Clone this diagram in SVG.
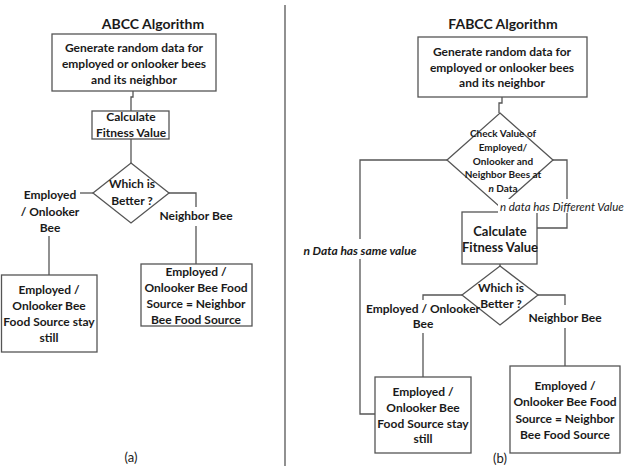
<svg xmlns="http://www.w3.org/2000/svg" width="626" height="466" viewBox="0 0 626 466">
<style>
text{font-family:Lato,"Open Sans","Liberation Sans",sans-serif;fill:#1a1a1a;text-anchor:middle;font-weight:bold}
.t{font-size:14px}
.b{font-size:12px}
.s{font-size:10px}
.r{font-weight:normal;font-size:13px}
.it{font-style:italic}
.st{fill:none;stroke:#555;stroke-width:1.3}
.box{fill:#fff;stroke:#555;stroke-width:1.3}
</style>
<rect width="626" height="466" fill="#fff"/>
<line class="st" x1="285" y1="5" x2="285" y2="466"/>
<g id="connectors">
<path class="st" d="M133,91V97H131V111"/>
<path class="st" d="M131,139V163"/>
<path class="st" d="M93,193H80"/>
<path class="st" d="M49,236V275"/>
<path class="st" d="M169,193H196V207"/>
<path class="st" d="M196,226V264"/>
<path class="st" d="M502,97V103H499V113"/>
<path class="st" d="M553,160H567V228H537"/>
<path class="st" d="M447,160H360V239"/>
<path class="st" d="M360,259V414H375"/>
<path class="st" d="M500,264V266"/>
<path class="st" d="M462,295H423V300"/>
<path class="st" d="M423,333V377"/>
<path class="st" d="M538,295H565V305"/>
<path class="st" d="M565,328V366"/>
</g>
<g id="titleA"><text class="t" x="153" y="29">ABCC Algorithm</text></g>
<g id="genA">
<rect class="box" x="52" y="34" width="164" height="57"/>
<text class="b" x="134" y="52">Generate random data for</text>
<text class="b" x="134" y="68">employed or onlooker bees</text>
<text class="b" x="134" y="84">and its neighbor</text>
</g>
<g id="calcA">
<rect class="box" x="92" y="111" width="77" height="28"/>
<text class="b" x="131" y="121">Calculate</text>
<text class="b" x="131" y="137">Fitness Value</text>
</g>
<g id="decA">
<polygon class="box" points="131,163 169,193 131,223 93,193"/>
<text class="b" x="132" y="188">Which is</text>
<text class="b" x="132" y="205">Better ?</text>
</g>
<g id="lblA1">
<text class="b" x="50" y="199">Employed</text>
<text class="b" x="50" y="216">/ Onlooker</text>
<text class="b" x="50" y="232">Bee</text>
</g>
<g id="lblA2"><text class="b" x="196" y="220">Neighbor Bee</text></g>
<g id="stayA">
<rect class="box" x="1.5" y="275" width="95.5" height="77"/>
<text class="b" x="49" y="294">Employed /</text>
<text class="b" x="49" y="310">Onlooker Bee</text>
<text class="b" x="49" y="326">Food Source stay</text>
<text class="b" x="49" y="342">still</text>
</g>
<g id="newA">
<rect class="box" x="141" y="264" width="111" height="62"/>
<text class="b" x="196" y="276">Employed /</text>
<text class="b" x="196" y="292">Onlooker Bee Food</text>
<text class="b" x="196" y="308">Source = Neighbor</text>
<text class="b" x="196" y="324">Bee Food Source</text>
</g>
<g id="capA"><text class="r" x="131" y="462">(a)</text></g>

<g id="titleB"><text class="t" x="503" y="29">FABCC Algorithm</text></g>
<g id="genB">
<rect class="box" x="418" y="37" width="169" height="60"/>
<text class="b" x="502" y="56">Generate random data for</text>
<text class="b" x="502" y="72">employed or onlooker bees</text>
<text class="b" x="502" y="87">and its neighbor</text>
</g>
<g id="checkB">
<polygon class="box" points="500,113 553,160 500,207 447,160"/>
<text class="s" x="503" y="137">Check Value of</text>
<text class="s" x="503" y="151">Employed/</text>
<text class="s" x="503" y="165">Onlooker and</text>
<text class="s" x="503" y="178">Neighbor Bees at</text>
<text class="s" x="503" y="192"><tspan font-style="italic">n</tspan> Data</text>
</g>
<g id="calcB">
<rect class="box" x="462" y="212" width="75" height="52"/>
<text class="b" x="500" y="236" style="font-size:13px">Calculate</text>
<text class="b" x="500" y="252" style="font-size:13px">Fitness Value</text>
</g>
<g id="lblDiff">
<rect x="498" y="199" width="128" height="14" fill="#fff"/>
<text class="it" x="500" y="211" style="font-weight:normal;font-size:11.5px;text-anchor:start">n data has Different Value</text>
</g>
<g id="lblSame"><text class="it" x="360" y="255" style="font-size:12px">n Data has same value</text></g>
<g id="decB">
<polygon class="box" points="500,266 538,295 500,325 462,295"/>
<text class="b" x="501" y="292">Which is</text>
<text class="b" x="501" y="308">Better ?</text>
</g>
<g id="lblB1">
<text class="b" x="423" y="313">Employed / Onlooker</text>
<text class="b" x="423" y="328">Bee</text>
</g>
<g id="lblB2"><text class="b" x="565" y="322">Neighbor Bee</text></g>
<g id="stayB">
<rect class="box" x="375" y="377" width="96" height="76"/>
<text class="b" x="423" y="396">Employed /</text>
<text class="b" x="423" y="412">Onlooker Bee</text>
<text class="b" x="423" y="428">Food Source stay</text>
<text class="b" x="423" y="443">still</text>
</g>
<g id="newB">
<rect class="box" x="510" y="366" width="110" height="87"/>
<text class="b" x="565" y="390">Employed /</text>
<text class="b" x="565" y="406">Onlooker Bee Food</text>
<text class="b" x="565" y="423">Source = Neighbor</text>
<text class="b" x="565" y="439">Bee Food Source</text>
</g>
<g id="capB"><text class="r" x="500" y="463">(b)</text></g>
</svg>
